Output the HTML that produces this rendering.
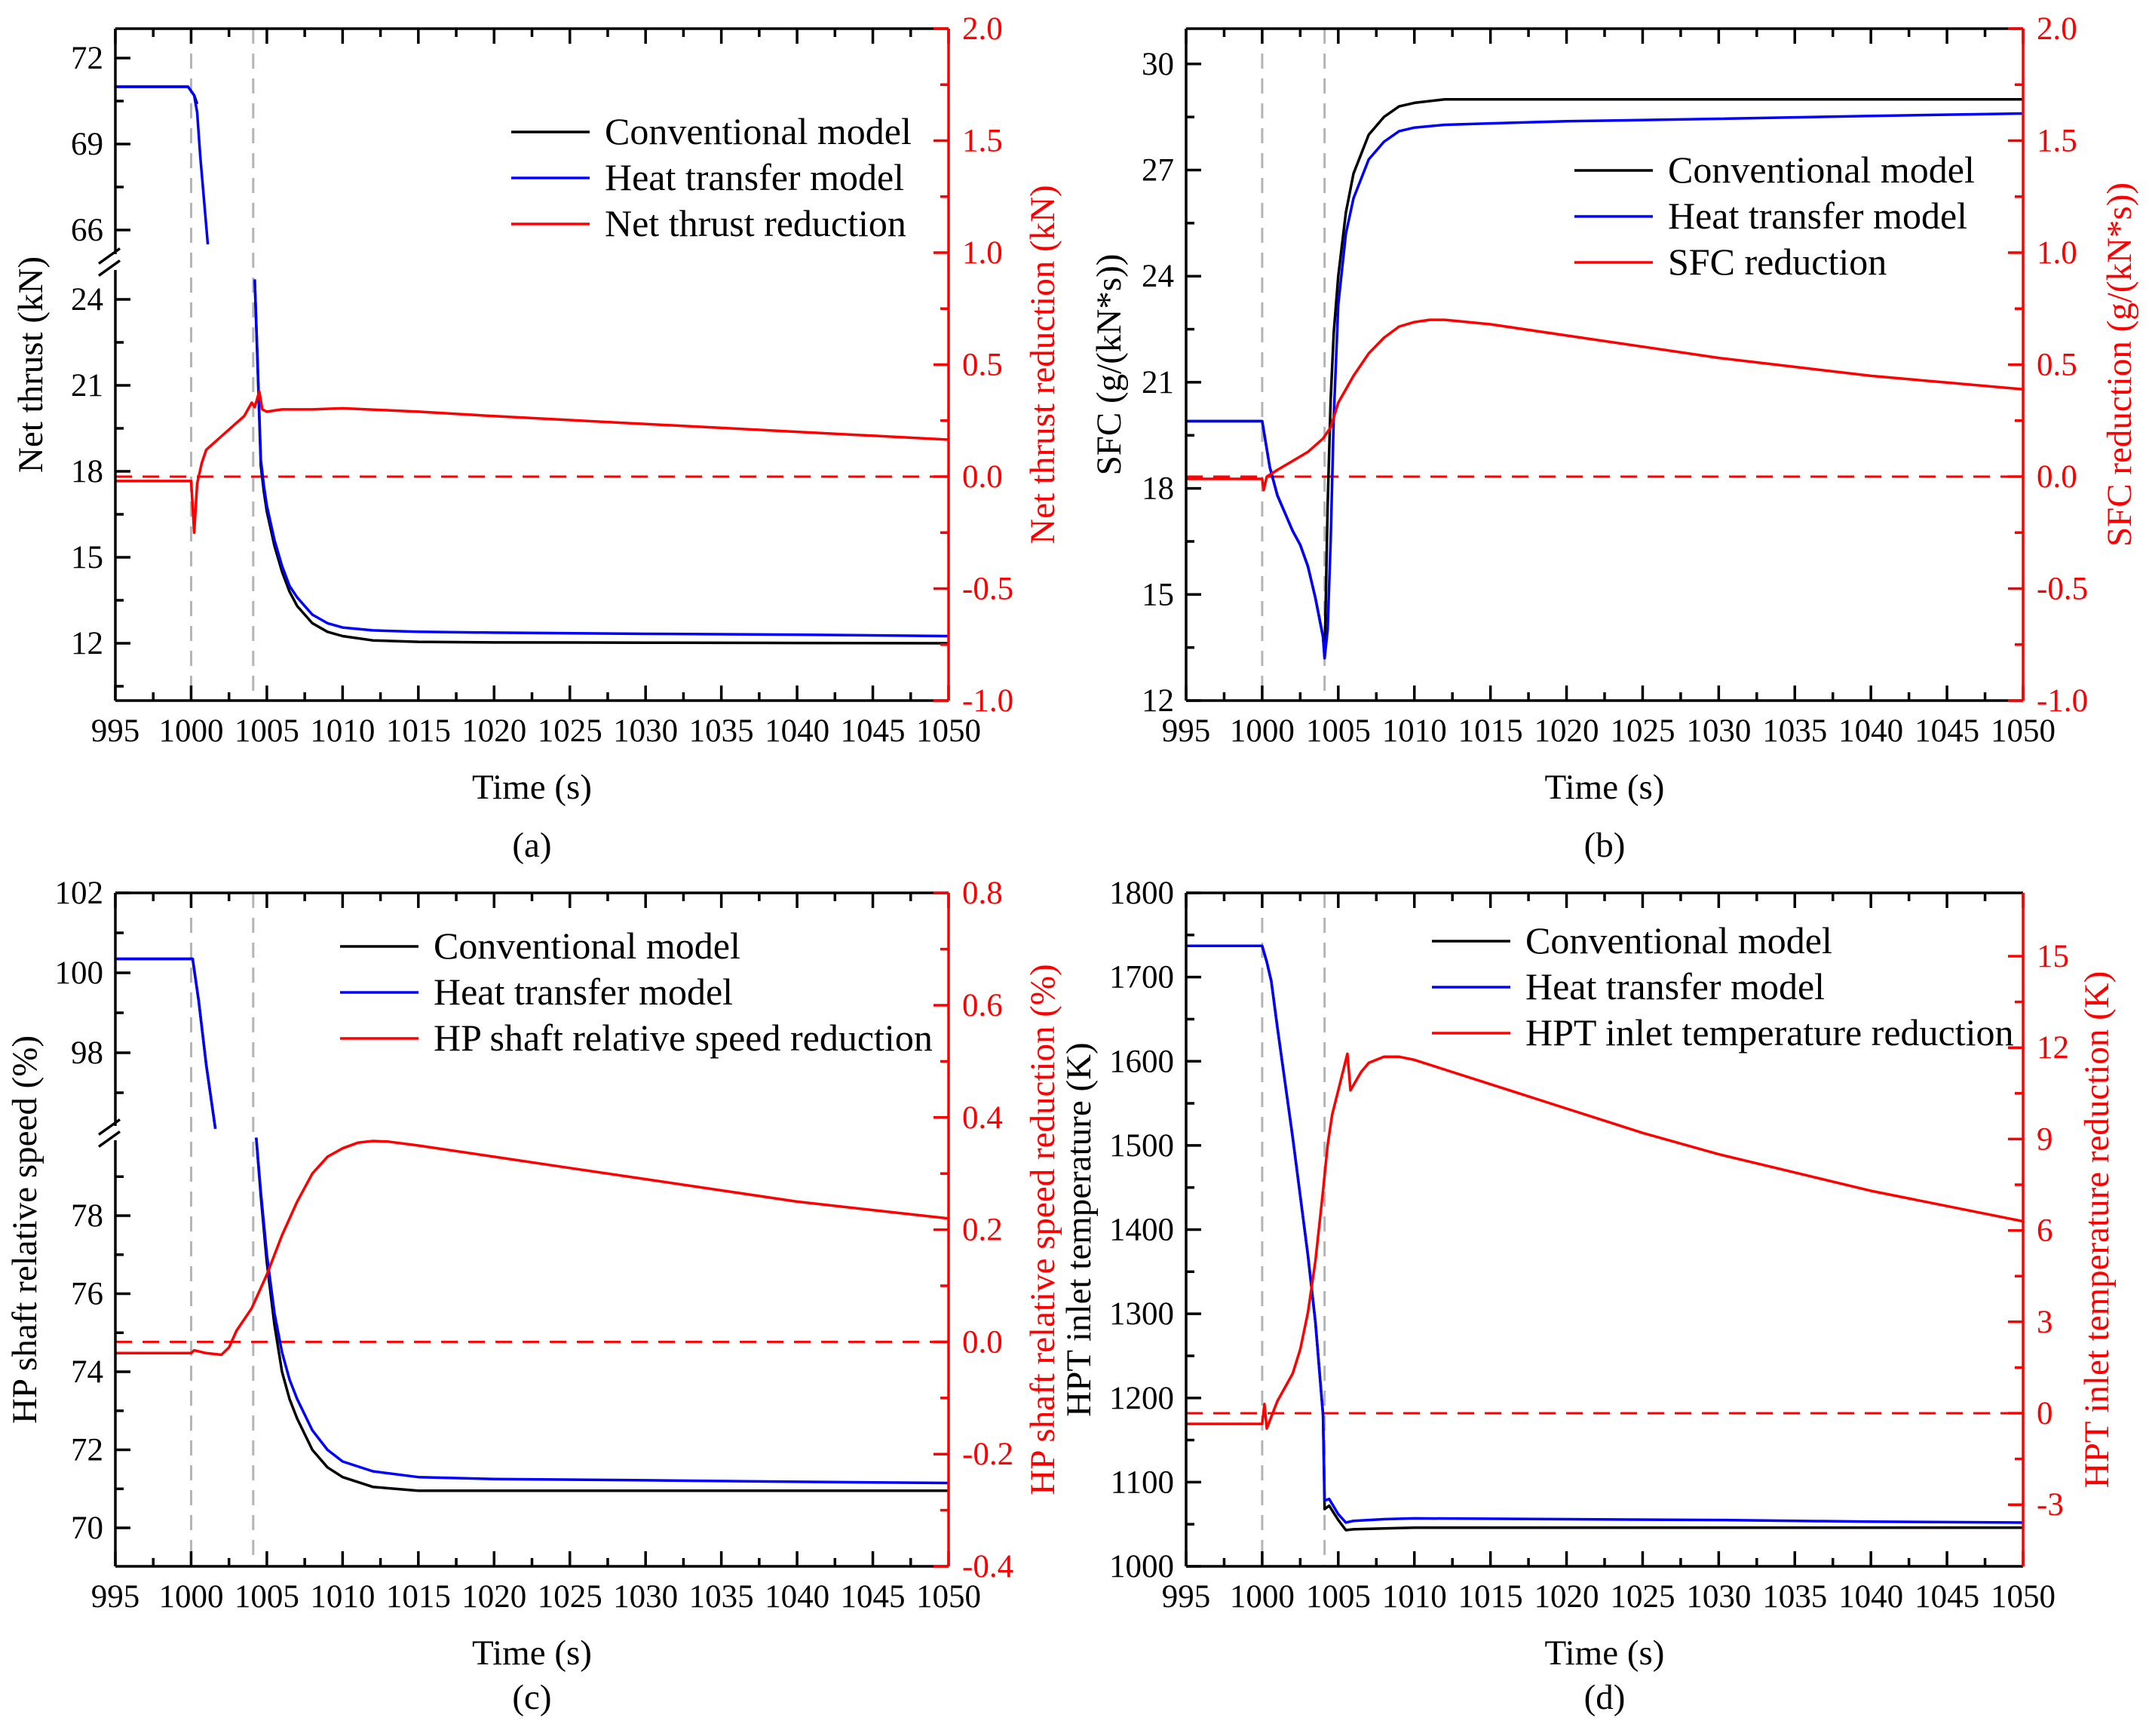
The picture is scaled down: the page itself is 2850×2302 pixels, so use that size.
<!DOCTYPE html>
<html><head><meta charset="utf-8">
<style>
html,body{margin:0;padding:0;background:#fff;}
svg, svg text{font-family:"Liberation Serif","Times New Roman",serif;}
</style></head>
<body>
<svg id="fig" width="2850" height="2297" viewBox="0 0 2850 2297" xmlns="http://www.w3.org/2000/svg" font-family="Liberation Serif, serif"></svg>
<script>
// ---------- DATA ----------
const xTicks = [995,1000,1005,1010,1015,1020,1025,1030,1035,1040,1045,1050];
const markerTimes = [1000,1004.1];

// Panel (a) net thrust
const tA = [995,999.8,1000.2,1000.4,1000.6,1001.1,1004.2,1004.4,1004.6,1004.8,1005,1005.5,1006,1006.5,1007,1008,1009,1010,1012,1015,1020,1030,1040,1050];
const convA = [71,71,70.7,70.4,null,null,24.7,21.5,18.2,17.3,16.6,15.4,14.5,13.8,13.3,12.7,12.4,12.25,12.1,12.05,12.03,12.02,12.01,12.0];
const heatA = [71,71,70.7,70.1,68.6,65.5,24.7,21.6,18.4,17.5,16.8,15.6,14.7,14.0,13.6,13.0,12.7,12.55,12.45,12.4,12.37,12.33,12.3,12.25];
const tRedA = [995,1000,1000.2,1000.4,1000.7,1001,1002,1003,1003.5,1004,1004.2,1004.5,1004.7,1005,1006,1008,1010,1015,1020,1030,1040,1050];
const redA = [-0.02,-0.02,-0.25,-0.03,0.06,0.12,0.18,0.24,0.27,0.33,0.31,0.38,0.30,0.29,0.30,0.30,0.305,0.29,0.27,0.235,0.20,0.165];
const leftTicksA = [12,15,18,21,24,66,69,72];
const rightTicksA = [-1.0,-0.5,0.0,0.5,1.0,1.5,2.0];

// Panel (b) SFC
const tB = [995,1000,1000.5,1001,1001.5,1002,1002.5,1003,1003.5,1004,1004.1,1004.3,1004.5,1004.7,1005,1005.5,1006,1007,1008,1009,1010,1012,1015,1020,1030,1040,1050];
const convB = [19.9,19.9,18.6,17.8,17.3,16.8,16.4,15.8,14.9,13.8,13.2,17.5,20.5,22.4,24.0,25.8,26.9,28.0,28.5,28.8,28.9,29.0,29.0,29.0,29.0,29.0,29.0];
const heatB = [19.9,19.9,18.6,17.8,17.3,16.8,16.4,15.8,14.9,13.8,13.2,14.0,16.5,20.0,23.2,25.2,26.2,27.3,27.8,28.1,28.2,28.28,28.32,28.38,28.45,28.53,28.6];
const tRedB = [995,1000,1000.1,1000.3,1001,1002,1003,1004,1004.5,1005,1006,1007,1008,1009,1010,1011,1012,1015,1020,1025,1030,1035,1040,1045,1050];
const redB = [-0.01,-0.01,-0.06,0.0,0.03,0.07,0.11,0.17,0.22,0.33,0.45,0.55,0.62,0.67,0.69,0.70,0.70,0.68,0.63,0.58,0.53,0.49,0.45,0.42,0.39];
const leftTicksB = [12,15,18,21,24,27,30];
const rightTicksB = [-1.0,-0.5,0.0,0.5,1.0,1.5,2.0];

// Panel (c) HP shaft speed
const tC = [995,1000.1,1000.5,1001,1001.6,1004.3,1004.6,1005,1005.5,1006,1006.5,1007,1008,1009,1010,1012,1015,1020,1030,1040,1050];
const convC = [100.35,100.35,99.3,97.7,96.1,80,78.5,76.8,75.2,74.0,73.3,72.8,72.0,71.55,71.3,71.05,70.95,70.95,70.95,70.95,70.95];
const heatC = [100.35,100.35,99.3,97.7,96.1,80,78.6,77.0,75.5,74.5,73.8,73.3,72.5,72.0,71.7,71.45,71.3,71.25,71.22,71.18,71.15];
const tRedC = [995,1000,1000.2,1001,1002,1002.5,1003,1004,1005,1006,1007,1008,1009,1010,1011,1012,1013,1015,1020,1025,1030,1035,1040,1045,1050];
const redC = [-0.02,-0.02,-0.015,-0.02,-0.023,-0.01,0.02,0.06,0.12,0.19,0.25,0.30,0.33,0.345,0.355,0.358,0.357,0.35,0.33,0.31,0.29,0.27,0.25,0.235,0.22];
const leftTicksC = [70,72,74,76,78,98,100,102];
const rightTicksC = [-0.4,-0.2,0.0,0.2,0.4,0.6,0.8];

// Panel (d) HPT inlet temperature
const tD = [995,1000,1000.3,1000.6,1001,1002,1003,1003.5,1004,1004.1,1004.4,1005,1005.5,1006,1008,1010,1020,1030,1040,1050];
const convD = [1737,1737,1718,1695,1640,1510,1370,1290,1180,1068,1072,1055,1043,1044,1045,1046,1046,1046,1046,1046];
const heatD = [1737,1737,1718,1695,1640,1510,1370,1290,1180,1078,1080,1062,1052,1054,1056,1057,1056,1055,1053,1052];
const tRedD = [995,1000,1000.15,1000.3,1001,1002,1002.5,1003,1003.5,1004,1004.3,1004.6,1005,1005.6,1005.8,1006.5,1007,1008,1009,1010,1015,1020,1025,1030,1035,1040,1045,1050];
const redD = [-0.35,-0.35,0.3,-0.5,0.4,1.3,2.1,3.3,5.0,7.3,8.8,9.8,10.6,11.8,10.6,11.2,11.5,11.7,11.7,11.6,10.8,10.0,9.2,8.5,7.9,7.3,6.8,6.3];
const leftTicksD = [1000,1100,1200,1300,1400,1500,1600,1700,1800];
const rightTicksD = [-3,0,3,6,9,12,15];

// ---------- DRAW ----------
const NS='http://www.w3.org/2000/svg';
const svg=document.getElementById('fig');
const FF='Liberation Serif, Times New Roman, serif';
function el(tag,attrs,parent,text){const e=document.createElementNS(NS,tag);for(const k in attrs)e.setAttribute(k,attrs[k]);if(tag==='text')e.setAttribute('font-family',FF);if(text!==undefined)e.textContent=text;(parent||svg).appendChild(e);return e;}

function panel(p){
  const g=el('g',{},svg);
  
  
  const X=v=>p.L+(v-995)/(1050-995)*(p.R-p.L);
  markerTimes.forEach(t=>{const l=el('line',{x1:X(t),x2:X(t),y1:p.T,y2:p.B,stroke:'#b4b4b4','stroke-width':3,'stroke-dasharray':'20,13'},g);
    });
  const zl=el('line',{x1:p.L,x2:p.R,y1:p.RY(0),y2:p.RY(0),stroke:'#ff0000','stroke-width':3,'stroke-dasharray':'22,14'},g);
  
  function path(ts,vs,mapY,color,name){
    let d='',pen=false;
    for(let i=0;i<ts.length;i++){
      if(vs[i]===null){pen=false;continue;}
      if(i>0&&p.gap&&vs[i-1]!==null&&p.gap(vs[i-1])!==p.gap(vs[i]))pen=false;
      d+=(pen?'L':'M')+X(ts[i]).toFixed(1)+','+mapY(vs[i]).toFixed(1);pen=true;
    }
    const e=el('path',{d:d,fill:'none',stroke:color,'stroke-width':3.5,'stroke-linejoin':'round'},g);
    
  }
  path(p.t,p.conv,p.LY,'#000000','conventional-model-line');
  path(p.t,p.heat,p.LY,'#0000ff','heat-transfer-model-line');
  path(p.tr,p.red,p.RY,'#ff0000','reduction-line');
  const ax=el('g',{stroke:'#000','stroke-width':3.5},g);
  
  el('line',{x1:p.L,x2:p.R,y1:p.T,y2:p.T},ax);
  el('line',{x1:p.L,x2:p.R,y1:p.B,y2:p.B},ax);
  if(p.brk){
    el('line',{x1:p.L,x2:p.L,y1:p.T,y2:p.brk[0]},ax);
    el('line',{x1:p.L,x2:p.L,y1:p.brk[1],y2:p.B},ax);
    const m=(p.brk[0]+p.brk[1])/2;
    el('line',{x1:p.L-22,x2:p.L+6,y1:m+2,y2:m-18},ax);
    el('line',{x1:p.L-22,x2:p.L+6,y1:m+18,y2:m-2},ax);
  } else el('line',{x1:p.L,x2:p.L,y1:p.T,y2:p.B},ax);
  el('line',{x1:p.R,x2:p.R,y1:p.T,y2:p.B,stroke:'#ff0000','stroke-width':3.5},g);
  for(let v=995;v<=1050.01;v+=2.5){const maj=Math.abs(v%5)<0.01;const len=maj?20:11;const x=X(v);
    el('line',{x1:x,x2:x,y1:p.B,y2:p.B-len},ax);el('line',{x1:x,x2:x,y1:p.T,y2:p.T+len},ax);}
  xTicks.forEach(v=>{const t=el('text',{x:X(v),y:p.B+54,'text-anchor':'middle','font-size':43,fill:'#000'},g,String(v));
    });
  p.lt.forEach(v=>{const y=p.LY(v);el('line',{x1:p.L,x2:p.L+20,y1:y,y2:y},ax);
    const t=el('text',{x:p.L-16,y:y+14,'text-anchor':'end','font-size':43,fill:'#000'},g,String(v));
    });
  p.lminor.forEach(v=>{const y=p.LY(v);el('line',{x1:p.L,x2:p.L+11,y1:y,y2:y},ax);});
  p.rt.forEach(v=>{const y=p.RY(v);el('line',{x1:p.R,x2:p.R-20,y1:y,y2:y,stroke:'#ff0000','stroke-width':3.5},g);
    const t=el('text',{x:p.R+18,y:y+14,'font-size':43,fill:'#ff0000'},g,p.rfmt(v));
    });
  for(let i=0;i<p.rt.length-1;i++){const v=(p.rt[i]+p.rt[i+1])/2;const y=p.RY(v);el('line',{x1:p.R,x2:p.R-11,y1:y,y2:y,stroke:'#ff0000','stroke-width':3.5},g);}
  const cx=(p.L+p.R)/2;
  let t=el('text',{x:cx,y:p.B+130,'text-anchor':'middle','font-size':47},g,'Time (s)');
  
  t=el('text',{x:cx,y:p.capY,'text-anchor':'middle','font-size':47},g,'('+p.id+')');
  
  const my=(p.T+p.B)/2;
  t=el('text',{x:0,y:0,'text-anchor':'middle','font-size':47,transform:`translate(${p.ltx},${my}) rotate(-90)`},g,p.ltitle);
  
  t=el('text',{x:0,y:0,'text-anchor':'middle','font-size':47,fill:'#ff0000',transform:`translate(${p.rtx},${my}) rotate(-90)`},g,p.rtitle);
  
  const lg=el('g',{},g);
  const names=['Conventional model','Heat transfer model',p.rname];const cols=['#000','#0000ff','#ff0000'];
  names.forEach((n,i)=>{const y=p.legY+i*p.legDy;
    el('line',{x1:p.legX,x2:p.legX+104,y1:y,y2:y,stroke:cols[i],'stroke-width':3.5},lg);
    const tt=el('text',{x:p.legX+124,y:y+16,'font-size':50},lg,n);
    });
}
const fmt1=v=>v.toFixed(1);
function range(a,b,s){const r=[];for(let v=a;v<=b+1e-9;v+=s)r.push(+v.toFixed(3));return r;}

panel({id:'a',L:153,R:1258,T:38,B:929,
  LY:v=>v>=60?77+(72-v)*38:397+(24-v)*38, gap:v=>v>=60,
  RY:v=>929-(v+1)*297, brk:[337,358],
  t:tA,conv:convA,heat:heatA,tr:tRedA,red:redA,
  lt:leftTicksA,lminor:[70.5,67.5,22.5,19.5,16.5,13.5,10.5],rt:rightTicksA,rfmt:fmt1,
  ltitle:'Net thrust (kN)',rtitle:'Net thrust reduction (kN)',rname:'Net thrust reduction',
  ltx:56,rtx:1398,capY:1136,legX:678,legY:175,legDy:61});
panel({id:'b',L:1573,R:2683,T:38,B:929,
  LY:v=>929-(v-12)*46.9, RY:v=>929-(v+1)*297,
  t:tB,conv:convB,heat:heatB,tr:tRedB,red:redB,
  lt:leftTicksB,lminor:range(13.5,30,3),rt:rightTicksB,rfmt:fmt1,
  ltitle:'SFC (g/(kN*s))',rtitle:'SFC reduction (g/(kN*s))',rname:'SFC reduction',
  ltx:1486,rtx:2826,capY:1136,legX:2088,legY:226,legDy:61});
panel({id:'c',L:153,R:1258,T:1184,B:2077,
  LY:v=>v>=90?1184+(102-v)*53:2026-(v-70)*51.75, gap:v=>v>=90,
  RY:v=>2077-(v+0.4)*744, brk:[1493,1512],
  t:tC,conv:convC,heat:heatC,tr:tRedC,red:redC,
  lt:leftTicksC,lminor:[101,99,97,79,77,75,73,71],rt:rightTicksC,rfmt:fmt1,
  ltitle:'HP shaft relative speed (%)',rtitle:'HP shaft relative speed reduction (%)',rname:'HP shaft relative speed reduction',
  ltx:48,rtx:1398,capY:2266,legX:451,legY:1255,legDy:61});
panel({id:'d',L:1573,R:2683,T:1184,B:2077,
  LY:v=>2077-(v-1000)*893/800, RY:v=>1874-v*40.4,
  t:tD,conv:convD,heat:heatD,tr:tRedD,red:redD,
  lt:leftTicksD,lminor:range(1050,1750,100),rt:rightTicksD,rfmt:v=>String(v),
  ltitle:'HPT inlet temperature (K)',rtitle:'HPT inlet temperature reduction (K)',rname:'HPT inlet temperature reduction',
  ltx:1446,rtx:2796,capY:2266,legX:1899,legY:1248,legDy:61});
</script>
</body></html>
